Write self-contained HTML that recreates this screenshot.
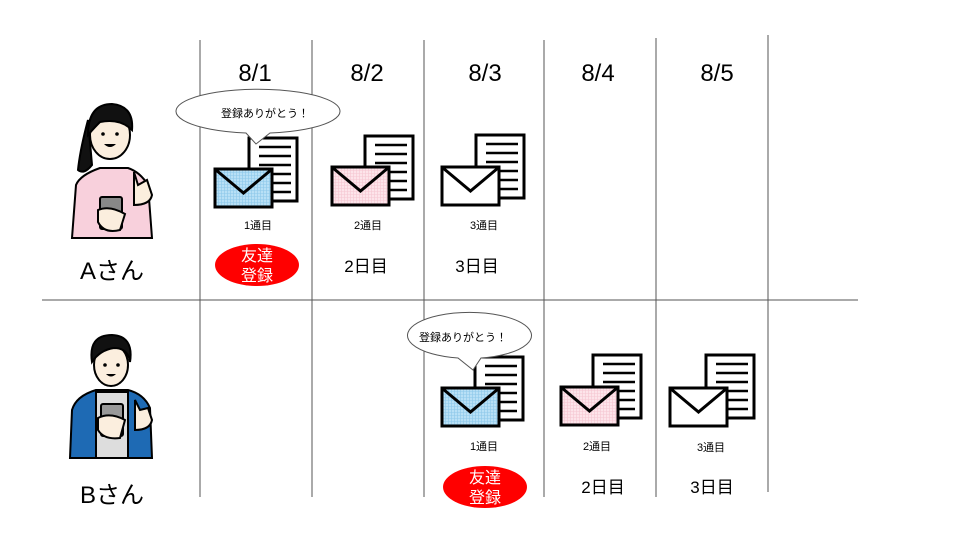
<!DOCTYPE html>
<html><head><meta charset="utf-8"><style>
html,body{margin:0;padding:0;background:#fff}
svg{display:block}
text{font-family:"Liberation Sans","Noto Sans CJK JP",sans-serif}
</style></head><body>
<svg width="960" height="540" viewBox="0 0 960 540" xmlns="http://www.w3.org/2000/svg">
<defs>
<pattern id="pb" width="3" height="3" patternUnits="userSpaceOnUse"><rect width="3" height="3" fill="#b8e0f6"/><path d="M0 0.5H3M0.5 0V3" stroke="#8cc8ea" stroke-width="0.6"/></pattern>
<pattern id="pp" width="3" height="3" patternUnits="userSpaceOnUse"><rect width="3" height="3" fill="#fde4ea"/><path d="M0 0.5H3M0.5 0V3" stroke="#f6c6d2" stroke-width="0.6"/></pattern>
<g id="doc">
<rect x="0" y="0" width="48" height="63" fill="#fff" stroke="#000" stroke-width="3"/>
<path d="M10 9H42M10 18H42M10 27H42M10 36H42M10 45H42M10 54H42" stroke="#000" stroke-width="2.5"/>
</g>
</defs>
<g stroke="#555" stroke-width="1">
<line x1="200" y1="40" x2="200" y2="497"/>
<line x1="312" y1="40" x2="312" y2="497"/>
<line x1="424" y1="40" x2="424" y2="497"/>
<line x1="544" y1="40" x2="544" y2="497"/>
<line x1="656" y1="38" x2="656" y2="497"/>
<line x1="768" y1="35" x2="768" y2="492"/>
<line x1="42" y1="300" x2="858" y2="300"/>
</g>
<g font-size="24" text-anchor="middle" fill="#000">
<text x="255" y="81">8/1</text><text x="367" y="81">8/2</text><text x="485" y="81">8/3</text><text x="598" y="81">8/4</text><text x="717" y="81">8/5</text>
<text x="112" y="279">Aさん</text><text x="112" y="503">Bさん</text>
</g>
<use href="#doc" x="249" y="138"/>
<g transform="translate(215,169)"><rect width="57" height="38" fill="url(#pb)" stroke="#000" stroke-width="3"/><path d="M1 1L28.5 24L56 1" fill="none" stroke="#000" stroke-width="3"/></g>
<use href="#doc" x="365" y="136"/>
<g transform="translate(332,167)"><rect width="57" height="38" fill="url(#pp)" stroke="#000" stroke-width="3"/><path d="M1 1L28.5 24L56 1" fill="none" stroke="#000" stroke-width="3"/></g>
<use href="#doc" x="476" y="135"/>
<g transform="translate(442,167)"><rect width="57" height="38" fill="#fff" stroke="#000" stroke-width="3"/><path d="M1 1L28.5 24L56 1" fill="none" stroke="#000" stroke-width="3"/></g>
<use href="#doc" x="475" y="357"/>
<g transform="translate(442,388)"><rect width="57" height="38" fill="url(#pb)" stroke="#000" stroke-width="3"/><path d="M1 1L28.5 24L56 1" fill="none" stroke="#000" stroke-width="3"/></g>
<use href="#doc" x="593" y="355"/>
<g transform="translate(561,387)"><rect width="57" height="38" fill="url(#pp)" stroke="#000" stroke-width="3"/><path d="M1 1L28.5 24L56 1" fill="none" stroke="#000" stroke-width="3"/></g>
<use href="#doc" x="706" y="355"/>
<g transform="translate(670,388)"><rect width="57" height="38" fill="#fff" stroke="#000" stroke-width="3"/><path d="M1 1L28.5 24L56 1" fill="none" stroke="#000" stroke-width="3"/></g>
<path d="M246 133 A82 22 0 1 1 270 133 L256 144 Z" fill="#fff" stroke="#555" stroke-width="1"/>
<text x="265" y="117" font-size="11" text-anchor="middle">登録ありがとう！</text>
<path d="M458 358 A62 23 0 1 1 481 358 L473 370 Z" fill="#fff" stroke="#555" stroke-width="1"/>
<text x="463" y="341" font-size="11" text-anchor="middle">登録ありがとう！</text>
<g font-size="11" text-anchor="middle">
<text x="258" y="229">1通目</text><text x="368" y="229">2通目</text><text x="484" y="229">3通目</text>
<text x="484" y="450">1通目</text><text x="597" y="450">2通目</text><text x="711" y="451">3通目</text>
</g>
<g font-size="17" text-anchor="middle">
<text x="366" y="272">2日目</text><text x="477" y="272">3日目</text>
<text x="603" y="493">2日目</text><text x="712" y="493">3日目</text>
</g>
<ellipse cx="257" cy="265" rx="42" ry="21" fill="#f00"/>
<text x="257" y="261" font-size="16" fill="#fff" text-anchor="middle">友達</text>
<text x="257" y="281" font-size="16" fill="#fff" text-anchor="middle">登録</text>
<ellipse cx="485" cy="487" rx="42" ry="21" fill="#f00"/>
<text x="485" y="483" font-size="16" fill="#fff" text-anchor="middle">友達</text>
<text x="485" y="503" font-size="16" fill="#fff" text-anchor="middle">登録</text>
<g stroke="#000" stroke-width="2">
<path d="M72 238 L76 185 Q80 175 100 168 L128 168 Q140 172 148 185 L152 238 Z" fill="#f8d0dc"/>
<path d="M88 120 Q80 150 78 170 Q84 175 92 165 Z" fill="#111"/>
<ellipse cx="110" cy="135" rx="20" ry="24" fill="#fbeede"/>
<path d="M88 135 Q88 104 112 104 Q134 106 132 130 Q120 118 100 122 Q94 128 88 135Z" fill="#111"/>
<rect x="100" y="197" width="22" height="32" rx="2" fill="#888"/>
<path d="M98 210 Q110 205 125 214 L120 230 Q104 234 98 222Z" fill="#fbeede"/>
<path d="M134 172 L134 205 Q150 205 152 195 L147 180 L138 185Z" fill="#fbeede"/>
</g>
<circle cx="103" cy="134" r="1.8"/><circle cx="117" cy="134" r="1.8"/>
<path d="M104 144 Q110 150 116 144Z" fill="#000"/>
<g stroke="#000" stroke-width="2">
<path d="M70 458 L72 410 Q76 396 96 390 L128 390 Q144 394 150 408 L152 458 Z" fill="#1e6ab4"/>
<path d="M96 392 L96 458 L128 458 L128 392 Z" fill="#ddd"/>
<ellipse cx="111" cy="365" rx="17" ry="21" fill="#fbeede"/>
<path d="M92 362 Q88 335 112 335 Q134 336 130 362 Q128 348 114 348 Q100 350 92 362Z" fill="#111"/>
<rect x="101" y="404" width="22" height="32" rx="2" fill="#999"/>
<path d="M98 418 Q110 412 125 420 L120 438 Q104 440 98 430Z" fill="#fbeede"/>
<path d="M135 400 L135 430 Q150 430 152 420 L148 408 L140 410Z" fill="#fbeede"/>
</g>
<circle cx="105" cy="365" r="1.8"/><circle cx="118" cy="365" r="1.8"/>
<path d="M106 374 Q111 379 116 374Z" fill="#000"/>
</svg>
</body></html>
